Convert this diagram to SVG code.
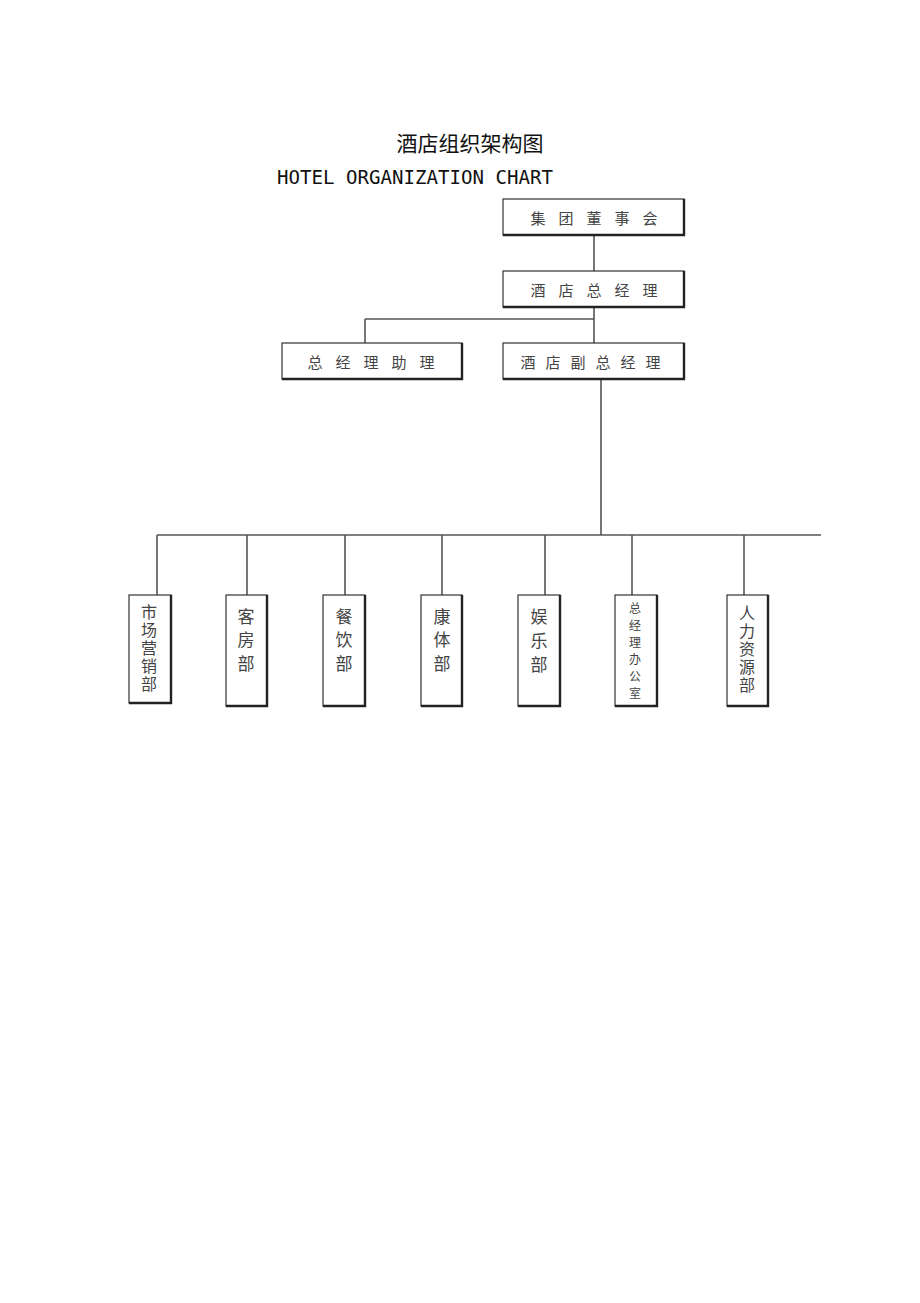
<svg xmlns="http://www.w3.org/2000/svg" width="920" height="1303" viewBox="0 0 920 1303">
<style>
.bx{fill:#fff;stroke:#333;stroke-width:1.2}
.sh{fill:none;stroke:#222;stroke-width:2.4}
.cn{fill:none;stroke:#555;stroke-width:1.6}
.t{font-family:"Noto Sans CJK SC","Liberation Serif",serif;fill:#444;text-anchor:middle;dominant-baseline:central}
.h{font-size:15px}
.v{font-size:17px}
.v5{font-size:16px}
</style>
<rect width="920" height="1303" fill="#fff"/>
<text x="470" y="142" style="font-family:'Noto Sans CJK SC',sans-serif;font-size:21px;fill:#111;text-anchor:middle;dominant-baseline:central">酒店组织架构图</text>
<text x="277" y="184" textLength="276" lengthAdjust="spacingAndGlyphs" style="font-family:'DejaVu Sans Mono',monospace;font-size:20px;fill:#111">HOTEL ORGANIZATION CHART</text>
<g id="connectors">
<path class="cn" d="M594 236V271M594 307V343M365 319H594M365 319V343"/>
<path class="cn" d="M601 379V535M157 535H821M157 535V595M247 535V595M345 535V595M442 535V595M545 535V595M632 535V595M744 535V595"/>
</g>
<g id="n1"><rect class="bx" x="503" y="199" width="181" height="36"/><path class="sh" d="M684 199V235H503"/>
<text class="t h" y="217"><tspan x="538">集</tspan><tspan x="566">团</tspan><tspan x="594">董</tspan><tspan x="622">事</tspan><tspan x="650">会</tspan></text></g>
<g id="n2"><rect class="bx" x="503" y="271" width="181" height="36"/><path class="sh" d="M684 271V307H503"/>
<text class="t h" y="289"><tspan x="538">酒</tspan><tspan x="566">店</tspan><tspan x="594">总</tspan><tspan x="622">经</tspan><tspan x="650">理</tspan></text></g>
<g id="n3"><rect class="bx" x="282" y="343" width="180" height="36"/><path class="sh" d="M462 343V379H282"/>
<text class="t h" y="361"><tspan x="315">总</tspan><tspan x="343">经</tspan><tspan x="371">理</tspan><tspan x="399">助</tspan><tspan x="427">理</tspan></text></g>
<g id="n4"><rect class="bx" x="503" y="343" width="181" height="36"/><path class="sh" d="M684 343V379H503"/>
<text class="t h" y="361"><tspan x="528">酒</tspan><tspan x="553">店</tspan><tspan x="578">副</tspan><tspan x="603">总</tspan><tspan x="628">经</tspan><tspan x="653">理</tspan></text></g>
<g id="d1"><rect class="bx" x="129" y="595" width="42" height="108"/><path class="sh" d="M171 595V703H129"/>
<text class="t v5"><tspan x="149" y="611">市</tspan><tspan x="149" y="629">场</tspan><tspan x="149" y="647">营</tspan><tspan x="149" y="665">销</tspan><tspan x="149" y="683">部</tspan></text></g>
<g id="d2"><rect class="bx" x="226" y="595" width="41" height="111"/><path class="sh" d="M267 595V706H226"/>
<text class="t v"><tspan x="246" y="615">客</tspan><tspan x="246" y="638">房</tspan><tspan x="246" y="662">部</tspan></text></g>
<g id="d3"><rect class="bx" x="323" y="595" width="42" height="111"/><path class="sh" d="M365 595V706H323"/>
<text class="t v"><tspan x="344" y="615">餐</tspan><tspan x="344" y="638">饮</tspan><tspan x="344" y="662">部</tspan></text></g>
<g id="d4"><rect class="bx" x="421" y="595" width="41" height="111"/><path class="sh" d="M462 595V706H421"/>
<text class="t v"><tspan x="442" y="615">康</tspan><tspan x="442" y="638">体</tspan><tspan x="442" y="662">部</tspan></text></g>
<g id="d5"><rect class="bx" x="518" y="595" width="42" height="111"/><path class="sh" d="M560 595V706H518"/>
<text class="t v"><tspan x="539" y="615">娱</tspan><tspan x="539" y="639">乐</tspan><tspan x="539" y="663">部</tspan></text></g>
<g id="d6"><rect class="bx" x="615" y="595" width="42" height="111"/><path class="sh" d="M657 595V706H615"/>
<text class="t" style="font-size:12px"><tspan x="635" y="607">总</tspan><tspan x="635" y="624">经</tspan><tspan x="635" y="641">理</tspan><tspan x="635" y="658">办</tspan><tspan x="635" y="675">公</tspan><tspan x="635" y="692">室</tspan></text></g>
<g id="d7"><rect class="bx" x="727" y="595" width="41" height="111"/><path class="sh" d="M768 595V706H727"/>
<text class="t v5"><tspan x="747" y="612">人</tspan><tspan x="747" y="630">力</tspan><tspan x="747" y="648">资</tspan><tspan x="747" y="666">源</tspan><tspan x="747" y="684">部</tspan></text></g>
</svg>
